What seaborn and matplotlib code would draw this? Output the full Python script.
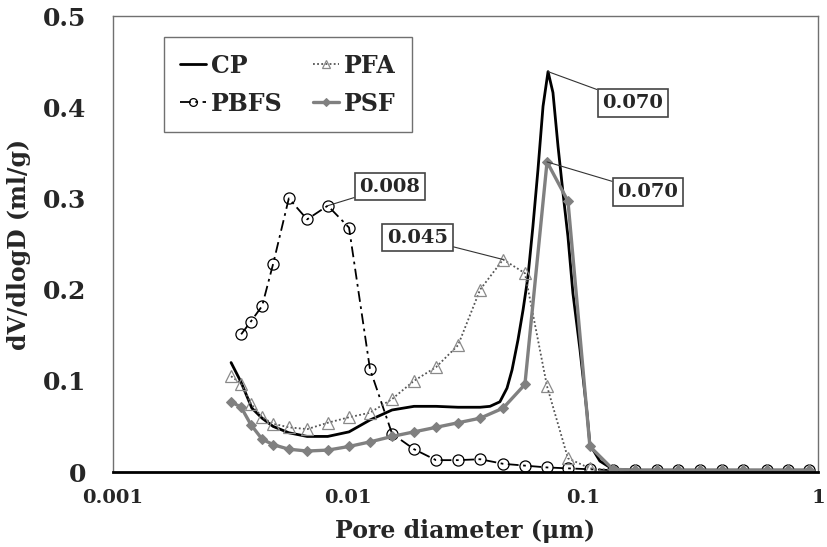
import matplotlib
matplotlib.use("Agg")
import matplotlib.pyplot as plt
import seaborn as sns

# pore diameters (um) shared by the marker series
grid_x = [0.00318, 0.00351, 0.00386, 0.00431, 0.0048, 0.0056, 0.0067, 0.0082, 0.0101, 0.0124,
          0.0154, 0.0191, 0.0237, 0.0294, 0.0365, 0.0457, 0.0566, 0.0703, 0.0863, 0.107,
          0.134, 0.166, 0.206, 0.254, 0.314, 0.390, 0.480, 0.605, 0.742, 0.920]

pfa_y = [0.105, 0.097, 0.075, 0.060, 0.053, 0.049, 0.047, 0.054, 0.060, 0.065,
         0.080, 0.100, 0.115, 0.139, 0.200, 0.233, 0.218, 0.094, 0.015, 0.004,
         0.002, 0.002, 0.002, 0.002, 0.002, 0.002, 0.002, 0.002, 0.002, 0.002]

psf_y = [0.077, 0.071, 0.052, 0.036, 0.030, 0.025, 0.023, 0.024, 0.028, 0.033,
         0.039, 0.044, 0.049, 0.054, 0.059, 0.070, 0.096, 0.340, 0.297, 0.028,
         0.003, 0.002, 0.002, 0.002, 0.002, 0.002, 0.002, 0.002, 0.002, 0.002]

# PBFS starts at the second diameter
pbfs_x = grid_x[1:]
pbfs_y = [0.151, 0.165, 0.182, 0.228, 0.300, 0.277, 0.292, 0.268, 0.113,
          0.042, 0.025, 0.013, 0.013, 0.014, 0.009, 0.007, 0.005, 0.004, 0.003,
          0.002, 0.002, 0.002, 0.002, 0.002, 0.002, 0.002, 0.002, 0.002, 0.002]

# CP is a smooth line without markers, read at more diameters
cp_x = [0.00318, 0.0035, 0.0039, 0.00431, 0.0048, 0.0056, 0.0067, 0.0082, 0.0101, 0.0124,
        0.0154, 0.0191, 0.0237, 0.0294, 0.0365, 0.0402, 0.0443, 0.0475, 0.0499, 0.0529,
        0.0556, 0.0583, 0.0612, 0.0643, 0.0676, 0.0710, 0.0745, 0.0783, 0.0822, 0.0863,
        0.0906, 0.0971, 0.104, 0.107, 0.118, 0.134, 0.166, 0.254, 0.390, 0.605, 0.920]
cp_y = [0.120, 0.099, 0.070, 0.059, 0.050, 0.043, 0.039, 0.039, 0.044, 0.057,
        0.068, 0.072, 0.072, 0.071, 0.071, 0.072, 0.077, 0.092, 0.112, 0.145,
        0.178, 0.214, 0.269, 0.331, 0.401, 0.439, 0.416, 0.357, 0.306, 0.258,
        0.196, 0.134, 0.065, 0.030, 0.012, 0.003, 0.002, 0.002, 0.002, 0.002, 0.002]

x_ticks = [0.001, 0.01, 0.1, 1]
x_labels = ["0.001", "0.01", "0.1", "1"]
y_ticks = [0, 0.1, 0.2, 0.3, 0.4, 0.5]
y_labels = ["0", "0.1", "0.2", "0.3", "0.4", "0.5"]

sns.set_style("white")
plt.rcParams["font.family"] = ["DejaVu Serif"]
plt.rcParams["font.weight"] = "bold"

fig = plt.figure(figsize=(8.27, 5.47), dpi=100)
ax = fig.add_axes([113 / 827, 1 - 472 / 547, 705 / 827, 456 / 547])

sns.lineplot(x=cp_x, y=cp_y, ax=ax, color="black", lw=2, label="CP")
sns.lineplot(x=pbfs_x, y=pbfs_y, ax=ax, color="black", lw=1.3, ls=(0, (6, 2.5, 1.5, 2.5)),
             marker="o", ms=8, mfc="none", mec="black", mew=0.9, label="PBFS")
sns.lineplot(x=grid_x, y=pfa_y, ax=ax, color="#555555", lw=1.3, ls=(0, (1, 1.3)),
             marker="^", ms=8, mfc="none", mec="#8a8a8a", mew=0.9, label="PFA")
sns.lineplot(x=grid_x, y=psf_y, ax=ax, color="#808080", lw=2.4,
             marker="D", ms=5.5, mfc="#808080", mec="#808080", label="PSF")

ax.set_xscale("log")
ax.set_xlim(0.001, 1)
ax.set_ylim(0, 0.5)
ax.set_xticks(x_ticks)
ax.set_xticklabels(x_labels, fontsize=14, fontweight="bold")
ax.set_yticks(y_ticks)
ax.set_yticklabels(y_labels, fontsize=18, fontweight="bold")
ax.minorticks_off()
ax.tick_params(axis="x", direction="out", length=5, width=1, color="black", pad=7)
ax.tick_params(axis="y", direction="out", length=6, width=1, color="#777777", pad=13)
ax.set_xlabel("Pore diameter (μm)", fontsize=17, fontweight="bold", labelpad=9)
ax.set_ylabel("dV/dlogD (ml/g)", fontsize=17, fontweight="bold", labelpad=9)

for side in ["top", "right", "left"]:
    ax.spines[side].set_color("#707070")
    ax.spines[side].set_linewidth(1)
ax.spines["bottom"].set_color("black")
ax.spines["bottom"].set_linewidth(2)

handles, labels = ax.get_legend_handles_labels()
order = [labels.index(n) for n in ["CP", "PBFS", "PFA", "PSF"]]
ax.legend([handles[i] for i in order], [labels[i] for i in order], ncol=2,
          loc="upper left", bbox_to_anchor=(0.072, 0.954), borderaxespad=0,
          prop={"size": 17, "weight": "bold"}, frameon=True, fancybox=False,
          edgecolor="#707070", framealpha=1, handlelength=1.1, handletextpad=0.2,
          columnspacing=1.3, labelspacing=0.6, borderpad=0.7, numpoints=1, markerscale=0.7)
ax.get_legend().get_frame().set_linewidth(1)

box = dict(boxstyle="square,pad=0.25", fc="white", ec="#444444", lw=1.2)
arrow = dict(arrowstyle="-", color="#333333", lw=0.8, shrinkA=0, shrinkB=0)
notes = [
    ("0.008", (pbfs_x[6], pbfs_y[6]), (0.0151, 0.313)),
    ("0.045", (grid_x[15], pfa_y[15]), (0.0197, 0.257)),
    ("0.070", (cp_x[25], cp_y[25]), (0.163, 0.405)),
    ("0.070", (grid_x[17], psf_y[17]), (0.189, 0.307)),
]
for txt, xy, xyt in notes:
    ax.annotate(txt, xy=xy, xytext=xyt, fontsize=14, fontweight="bold", ha="center",
                va="center", bbox=box, arrowprops=arrow)

fig.savefig("out.png", dpi=100)
